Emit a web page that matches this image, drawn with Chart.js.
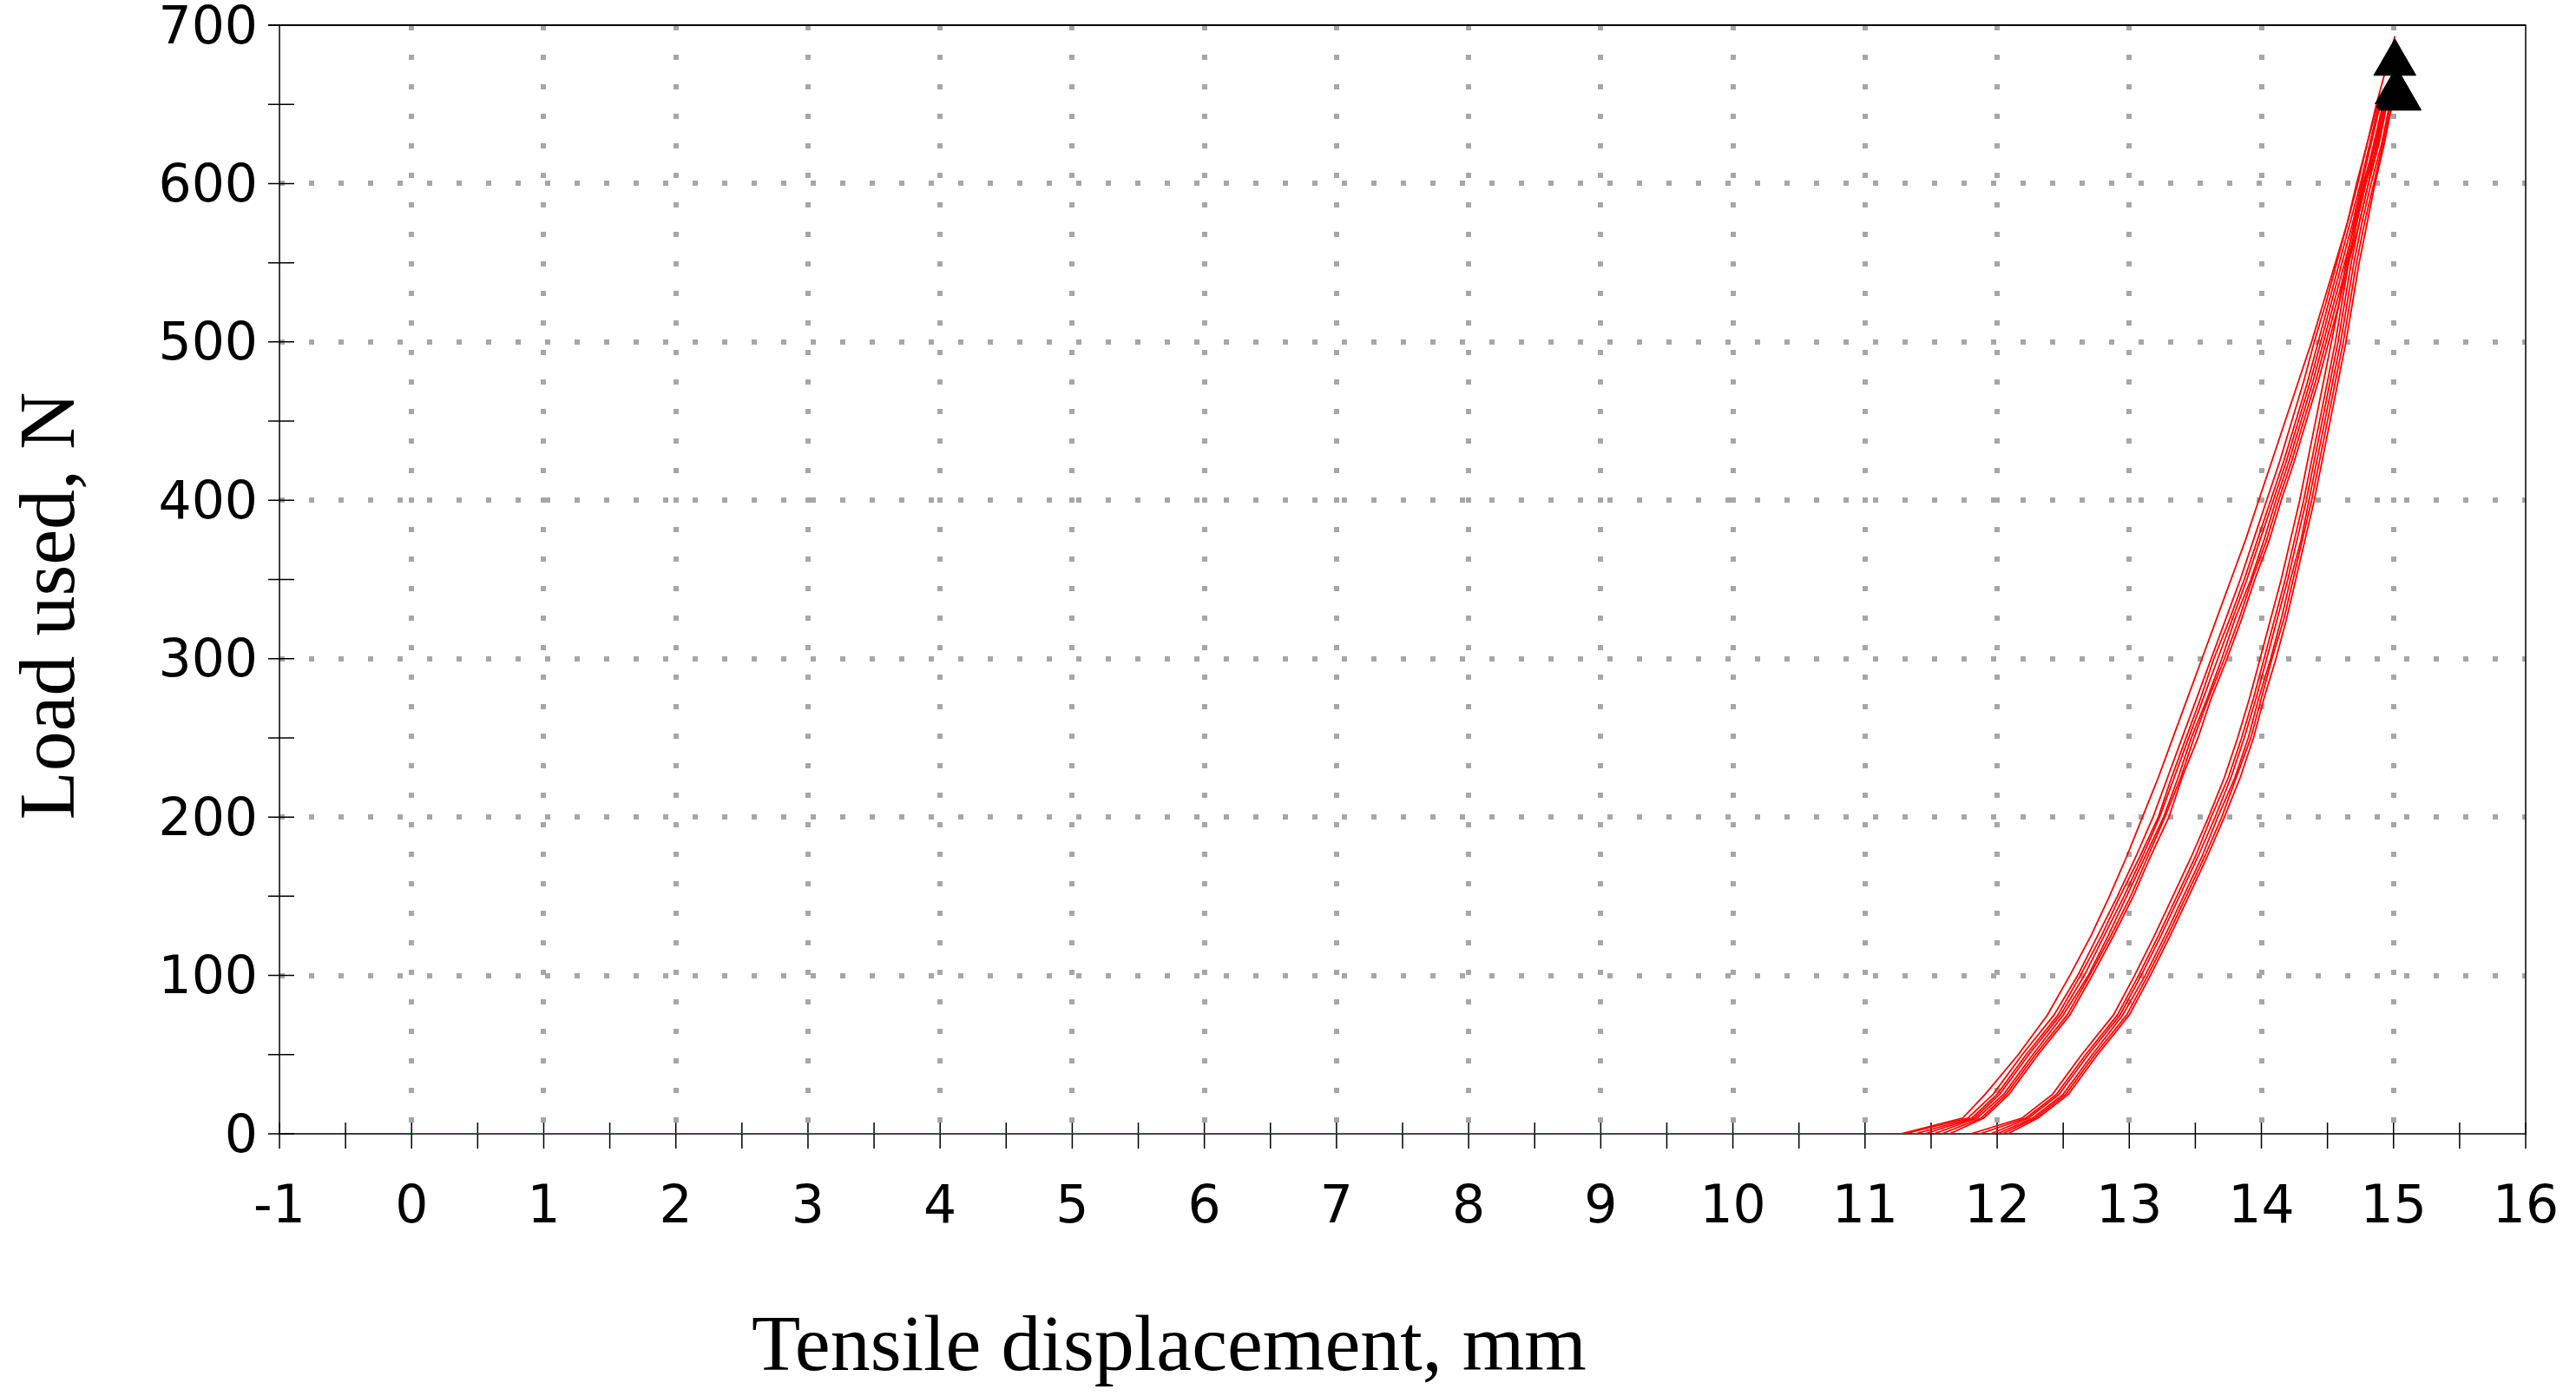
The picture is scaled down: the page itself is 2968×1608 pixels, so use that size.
<!DOCTYPE html>
<html>
<head>
<meta charset="utf-8">
<script src="https://cdn.jsdelivr.net/npm/chart.js@4.4.1/dist/chart.umd.min.js"></script>
<style>
  html, body { margin: 0; padding: 0; background: #fff; }
  #wrap { width: 2968px; height: 1608px; }
</style>
</head>
<body>
<div id="wrap"><canvas id="c"></canvas></div>
<script>
// tension test, load vs displacement
const xTitle = "Tensile displacement, mm";
const yTitle = "Load used, N";

const xMin = -1, xMax = 16, xStep = 1;
const yMin = 0, yMax = 700, yStep = 100;

// common load levels, N
const loadSteps = [0, 10, 25, 50, 75, 100, 125, 150, 175, 200, 225, 250, 275, 300,
  325, 350, 375, 400, 425, 450, 475, 500, 525, 550, 575, 600, 625, 650];

// first loading: slack from 0 mm, then the outermost curve
const slackStartDisp = 0;
const firstLoading = [11.27, 11.74, 11.91, 12.16, 12.38, 12.55, 12.71, 12.85, 12.98, 13.10, 13.22, 13.33, 13.44, 13.55,
  13.66, 13.77, 13.88, 13.98, 14.08, 14.18, 14.28, 14.38, 14.47, 14.56, 14.65, 14.73, 14.80, 14.87];

// left bundle (loading)
const upCycle1 = [11.30, 11.78, 11.97, 12.19, 12.43, 12.61, 12.76, 12.91, 13.05, 13.18, 13.29, 13.40, 13.51, 13.62,
  13.73, 13.84, 13.94, 14.04, 14.14, 14.23, 14.32, 14.40, 14.49, 14.57, 14.65, 14.72, 14.80, 14.88];
const upCycle2 = [11.38, 11.81, 12.00, 12.22, 12.46, 12.63, 12.79, 12.93, 13.08, 13.22, 13.32, 13.43, 13.54, 13.64,
  13.76, 13.87, 13.97, 14.07, 14.17, 14.26, 14.35, 14.43, 14.51, 14.59, 14.67, 14.75, 14.82, 14.89];
const upCycle3 = [11.45, 11.83, 12.02, 12.24, 12.48, 12.66, 12.81, 12.96, 13.10, 13.23, 13.34, 13.45, 13.56, 13.67,
  13.78, 13.89, 13.99, 14.09, 14.19, 14.28, 14.37, 14.45, 14.53, 14.61, 14.69, 14.76, 14.83, 14.90];
const upCycle4 = [11.52, 11.85, 12.05, 12.27, 12.50, 12.69, 12.84, 12.98, 13.12, 13.26, 13.37, 13.47, 13.59, 13.70,
  13.80, 13.92, 14.02, 14.11, 14.21, 14.30, 14.39, 14.47, 14.55, 14.63, 14.71, 14.78, 14.85, 14.92];
const upCycle5 = [11.58, 11.88, 12.07, 12.29, 12.53, 12.70, 12.86, 13.01, 13.14, 13.27, 13.39, 13.49, 13.60, 13.72,
  13.83, 13.93, 14.04, 14.13, 14.23, 14.32, 14.41, 14.49, 14.57, 14.65, 14.72, 14.79, 14.86, 14.93];
const upCycle6 = [11.64, 11.90, 12.09, 12.31, 12.55, 12.72, 12.88, 13.03, 13.16, 13.30, 13.40, 13.52, 13.62, 13.74,
  13.85, 13.95, 14.06, 14.15, 14.25, 14.34, 14.43, 14.51, 14.59, 14.66, 14.74, 14.81, 14.87, 14.94];

// right bundle (unloading)
const downCycle1 = [11.80, 12.19, 12.42, 12.64, 12.88, 13.04, 13.19, 13.33, 13.47, 13.60, 13.72, 13.82, 13.91, 13.99,
  14.07, 14.15, 14.22, 14.29, 14.35, 14.41, 14.47, 14.53, 14.59, 14.64, 14.70, 14.77, 14.86, 14.93];
const downCycle2 = [11.87, 12.22, 12.45, 12.67, 12.91, 13.07, 13.22, 13.36, 13.50, 13.62, 13.75, 13.85, 13.94, 14.02,
  14.10, 14.18, 14.25, 14.32, 14.38, 14.44, 14.50, 14.56, 14.61, 14.66, 14.72, 14.79, 14.88, 14.94];
const downCycle3 = [11.95, 12.24, 12.47, 12.69, 12.93, 13.09, 13.24, 13.38, 13.52, 13.65, 13.77, 13.87, 13.96, 14.04,
  14.12, 14.20, 14.27, 14.34, 14.40, 14.46, 14.52, 14.58, 14.63, 14.68, 14.74, 14.81, 14.89, 14.95];
const downCycle4 = [12.00, 12.27, 12.50, 12.72, 12.95, 13.12, 13.27, 13.41, 13.55, 13.67, 13.80, 13.90, 13.98, 14.07,
  14.15, 14.22, 14.30, 14.36, 14.42, 14.48, 14.54, 14.60, 14.65, 14.70, 14.76, 14.83, 14.91, 14.97];
const downCycle5 = [12.04, 12.29, 12.52, 12.74, 12.98, 13.14, 13.29, 13.43, 13.57, 13.70, 13.81, 13.92, 14.00, 14.08,
  14.17, 14.24, 14.31, 14.38, 14.44, 14.50, 14.56, 14.62, 14.67, 14.72, 14.78, 14.85, 14.92, 14.98];
const downCycle6 = [12.08, 12.31, 12.54, 12.76, 13.00, 13.16, 13.31, 13.45, 13.59, 13.72, 13.84, 13.94, 14.02, 14.11,
  14.19, 14.26, 14.33, 14.40, 14.46, 14.52, 14.58, 14.64, 14.69, 14.74, 14.80, 14.86, 14.93, 14.99];

// peak of each curve (same order as curves below)
const peakDisp = [15.01, 15.00, 15.01, 15.02, 15.01, 15.03, 15.02, 15.00, 15.02, 15.03, 15.02, 15.04, 15.03];
const peakLoad = [693, 668, 664, 661, 659, 662, 658, 657, 655, 654, 656, 653, 655];

// black triangles at the peaks
const markerDisp = [15.01, 15.02, 15.03, 15.04, 15.05];
const markerLoad = [676, 658, 656, 655, 654];

const curves = [firstLoading, upCycle1, upCycle2, upCycle3, upCycle4, upCycle5, upCycle6,
  downCycle1, downCycle2, downCycle3, downCycle4, downCycle5, downCycle6];

function curvePoints(disp, idx) {
  const pts = loadSteps.map((load, i) => ({ x: disp[i], y: load }));
  pts.push({ x: peakDisp[idx], y: peakLoad[idx] });
  if (idx === 0) pts.unshift({ x: slackStartDisp, y: 0 });
  return pts;
}

const redSets = curves.map((disp, idx) => ({
  type: "line",
  data: curvePoints(disp, idx),
  borderColor: "#ff0000",
  borderWidth: 1.8,
  pointRadius: 0,
  fill: false,
  tension: 0,
}));

const markerSet = {
  type: "scatter",
  data: markerDisp.map((x, i) => ({ x, y: markerLoad[i] })),
  pointStyle: "triangle",
  pointRadius: 28,
  backgroundColor: "#000",
  borderColor: "#000",
  borderWidth: 1,
  showLine: false,
};

const GRID = "#a6a6a6";
const tickFont = { family: "'DejaVu Sans', Verdana, sans-serif", size: 60 };

const frameAndTitles = {
  id: "frameAndTitles",
  beforeDatasetsDraw(chart) {
    const { ctx, chartArea: a, scales: { x, y } } = chart;
    ctx.save();
    ctx.strokeStyle = "#000";
    ctx.lineWidth = 1.5;
    ctx.strokeRect(a.left, a.top, a.right - a.left, a.bottom - a.top);
    ctx.lineWidth = 2.2;
    ctx.beginPath();
    ctx.moveTo(a.left - 13, a.top);
    ctx.lineTo(a.right, a.top);
    ctx.stroke();

    // crossing ticks, half-step on x, 50 N on y
    ctx.lineWidth = 1.5;
    ctx.beginPath();
    for (let v = xMin; v <= xMax + 1e-9; v += xStep / 2) {
      const px = x.getPixelForValue(v);
      ctx.moveTo(px, a.bottom - 13);
      ctx.lineTo(px, a.bottom + 17);
    }
    for (let v = yMin; v <= yMax + 1e-9; v += yStep / 2) {
      const py = y.getPixelForValue(v);
      ctx.moveTo(a.left - 13, py);
      ctx.lineTo(a.left + 17, py);
    }
    ctx.stroke();
    ctx.restore();
  },
  afterDraw(chart) {
    const { ctx, chartArea: a } = chart;
    ctx.save();
    ctx.fillStyle = "#000";
    ctx.font = "92px 'Liberation Serif', 'Times New Roman', serif";
    ctx.textAlign = "center";
    ctx.textBaseline = "alphabetic";
    ctx.fillText(xTitle, a.left + 1025, a.bottom + 272);

    ctx.translate(85, a.top + 669);
    ctx.rotate(-Math.PI / 2);
    ctx.fillText(yTitle, 0, 0);
    ctx.restore();
  },
};

new Chart(document.getElementById("c"), {
  data: { datasets: [markerSet, ...redSets] },
  options: {
    responsive: true,
    maintainAspectRatio: false,
    animation: false,
    devicePixelRatio: 1,
    layout: { padding: { left: 0, top: 28, right: 58, bottom: 0 } },
    plugins: { legend: { display: false }, tooltip: { enabled: false } },
    scales: {
      x: {
        type: "linear",
        min: xMin,
        max: xMax,
        afterFit(s) {
          s.height = 302;
          s.paddingLeft = 0;
          s.paddingRight = 0;
        },
        ticks: { stepSize: xStep, autoSkip: false, maxRotation: 0, padding: 50, color: "#000", font: tickFont },
        grid: {
          drawTicks: false,
          lineWidth: 6,
          color: (c) => (c.tick && (c.tick.value === xMin || c.tick.value === xMax) ? "rgba(0,0,0,0)" : GRID),
        },
        border: { display: false, dash: [6, 28] },
      },
      y: {
        type: "linear",
        min: yMin,
        max: yMax,
        afterFit(s) {
          s.width = 322;
          s.paddingTop = 0;
          s.paddingBottom = 0;
        },
        ticks: { stepSize: yStep, padding: 25, labelOffset: 5, color: "#000", font: tickFont },
        grid: {
          drawTicks: false,
          lineWidth: 6,
          color: (c) => (c.tick && (c.tick.value === yMin || c.tick.value === yMax) ? "rgba(0,0,0,0)" : GRID),
        },
        border: { display: false, dash: [6, 28] },
      },
    },
  },
  plugins: [frameAndTitles],
});
</script>
</body>
</html>
